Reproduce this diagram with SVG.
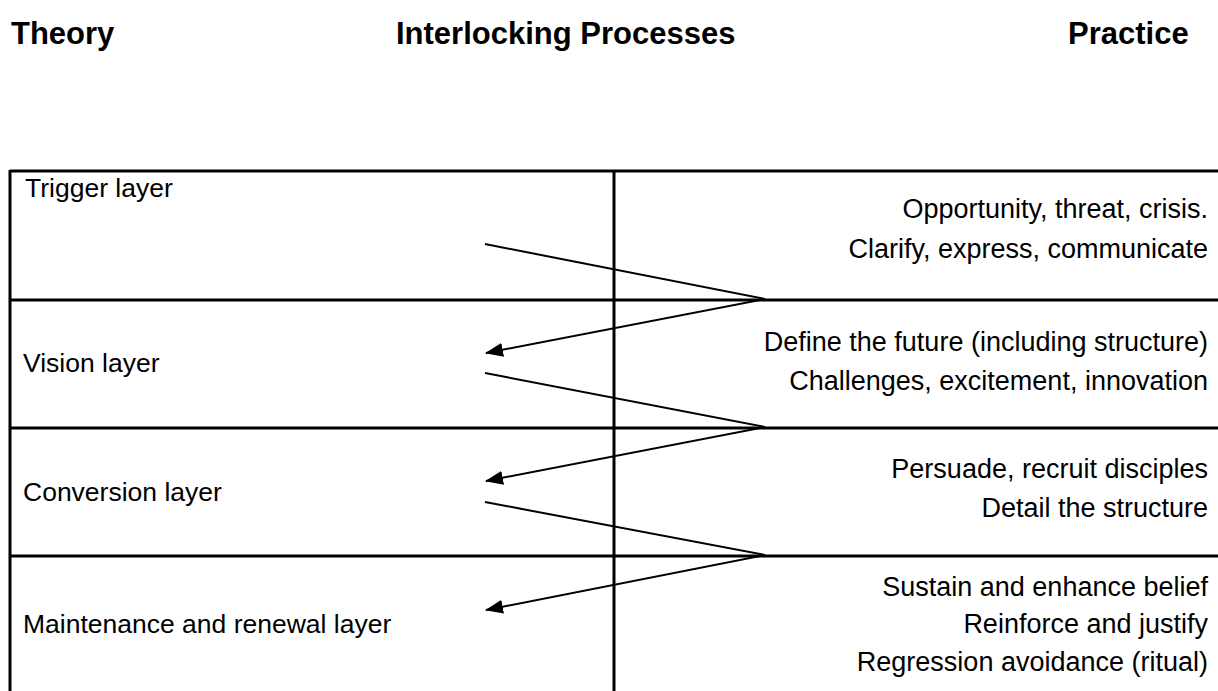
<svg xmlns="http://www.w3.org/2000/svg" width="1218" height="691" viewBox="0 0 1218 691">
  <style>
    .head { font-family: "Liberation Sans", Arial, sans-serif; font-weight: bold; font-size: 31px; fill: #000; }
    .lbl { font-family: "Liberation Sans", Arial, sans-serif; font-size: 26.5px; fill: #000; }
    .rt { text-anchor: end; font-size: 27px; }
    .grid { stroke: #000; stroke-width: 3; fill: none; }
    .conn { stroke: #000; stroke-width: 2; fill: none; }
  </style>
  <defs>
    <marker id="arrow" markerUnits="userSpaceOnUse" markerWidth="18" markerHeight="14" refX="17" refY="7" orient="auto">
      <path d="M0,0 L18,7 L0,14 Z" fill="#000"/>
    </marker>
  </defs>
  <rect width="1218" height="691" fill="#fff"/>

  <!-- column headings -->
  <g id="headings">
    <text class="head" x="11" y="44">Theory</text>
    <text class="head" x="396" y="44">Interlocking Processes</text>
    <text class="head" x="1068" y="44">Practice</text>
  </g>

  <!-- table frame -->
  <g id="frame" class="grid">
    <line x1="10" y1="171" x2="1218" y2="171"/>
    <line x1="10" y1="300" x2="1218" y2="300"/>
    <line x1="10" y1="428" x2="1218" y2="428"/>
    <line x1="10" y1="556" x2="1218" y2="556"/>
    <line x1="10" y1="170" x2="10" y2="691"/>
    <line x1="614" y1="170" x2="614" y2="691"/>
  </g>

  <g id="trigger">
    <text class="lbl" x="25" y="197">Trigger layer</text>
    <text class="lbl rt" x="1208" y="218">Opportunity, threat, crisis.</text>
    <text class="lbl rt" x="1208" y="258">Clarify, express, communicate</text>
  </g>

  <g id="vision">
    <text class="lbl" x="23" y="372">Vision layer</text>
    <text class="lbl rt" x="1208" y="351">Define the future (including structure)</text>
    <text class="lbl rt" x="1208" y="390">Challenges, excitement, innovation</text>
  </g>

  <g id="conversion">
    <text class="lbl" x="23" y="501">Conversion layer</text>
    <text class="lbl rt" x="1208" y="478">Persuade, recruit disciples</text>
    <text class="lbl rt" x="1208" y="517">Detail the structure</text>
  </g>

  <g id="maintenance">
    <text class="lbl" x="23" y="633">Maintenance and renewal layer</text>
    <text class="lbl rt" x="1208" y="596">Sustain and enhance belief</text>
    <text class="lbl rt" x="1208" y="633">Reinforce and justify</text>
    <text class="lbl rt" x="1208" y="671">Regression avoidance (ritual)</text>
  </g>

  <!-- zig-zag connectors between layers -->
  <g id="connectors" class="conn">
    <polyline points="485,244 765,299 486,353" marker-end="url(#arrow)"/>
    <polyline points="485,373 765,427 486,481" marker-end="url(#arrow)"/>
    <polyline points="485,502 765,555 486,610" marker-end="url(#arrow)"/>
  </g>
</svg>
